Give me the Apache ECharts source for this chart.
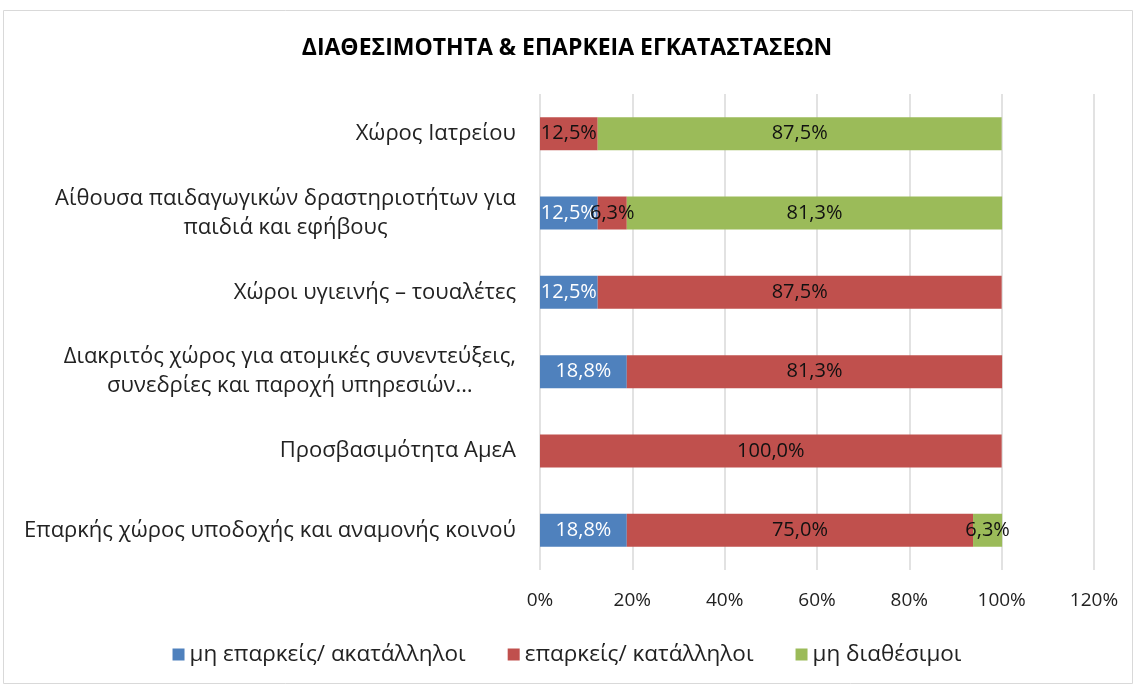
<!DOCTYPE html>
<html>
<head>
<meta charset="utf-8">
<script src="https://cdn.jsdelivr.net/npm/echarts@6/dist/echarts.min.js"></script>
<style>
  html, body { margin: 0; padding: 0; background: #fff; }
  #chart { width: 1134px; height: 686px; }
</style>
</head>
<body>
<div id="chart"></div>
<script>
var categories = [
    'Χώρος Ιατρείου',
    'Αίθουσα παιδαγωγικών δραστηριοτήτων για\nπαιδιά και εφήβους',
    'Χώροι υγιεινής – τουαλέτες',
    'Διακριτός χώρος για ατομικές συνεντεύξεις,\nσυνεδρίες και παροχή υπηρεσιών…',
    'Προσβασιμότητα ΑμεΑ',
    'Επαρκής χώρος υποδοχής και αναμονής κοινού'
];
var seriesNames = ['μη επαρκείς/ ακατάλληλοι', 'επαρκείς/ κατάλληλοι', 'μη διαθέσιμοι'];
var inadequate = [0, 12.5, 12.5, 18.8, 0, 18.8];
var adequate = [12.5, 6.3, 87.5, 81.3, 100, 75.0];
var unavailable = [87.5, 81.3, 0, 0, 0, 6.3];
var colors = ['#4F81BD', '#C0504D', '#9BBB59'];
var labelColors = ['#ffffff', '#111111', '#111111'];

var FONT = '"Open Sans", "Noto Sans", sans-serif';

var myChart = echarts.init(document.getElementById('chart'));

function makeSeries(idx, values) {
    return {
        name: seriesNames[idx],
        type: 'bar',
        stack: 'total',
        barWidth: 33,
        data: values,
        itemStyle: { color: colors[idx] },
        label: {
            show: true,
            position: 'inside',
            color: labelColors[idx],
            fontFamily: FONT,
            fontSize: 20,
            formatter: function (p) {
                if (!p.value) return '';
                return p.value.toFixed(1).replace('.', ',') + '%';
            }
        }
    };
}

var option = {
    animation: false,
    textStyle: { fontFamily: FONT },
    title: {
        text: 'ΔΙΑΘΕΣΙΜΟΤΗΤΑ & ΕΠΑΡΚΕΙΑ ΕΓΚΑΤΑΣΤΑΣΕΩΝ',
        left: 'center',
        top: 32,
        textStyle: { fontFamily: FONT, fontSize: 23, fontWeight: 'bold', color: '#000' }
    },
    graphic: [{
        type: 'rect',
        shape: { x: 3.5, y: 10.5, width: 1129, height: 673 },
        style: { fill: 'none', stroke: '#d9d9d9', lineWidth: 1 },
        silent: true
    }],
    legend: {
        bottom: 15,
        left: 'center',
        itemWidth: 12,
        itemHeight: 12,
        itemGap: 42,
        icon: 'rect',
        textStyle: { fontFamily: FONT, fontSize: 22.5, color: '#222' },
        data: seriesNames
    },
    grid: { left: 540, right: 40, top: 94, bottom: 116 },
    xAxis: {
        type: 'value',
        min: 0,
        max: 120,
        interval: 20,
        axisLine: { show: false },
        axisTick: { show: false },
        splitLine: { show: true, lineStyle: { color: '#d9d9d9', width: 1.5 } },
        axisLabel: {
            margin: 21,
            fontFamily: FONT,
            fontSize: 19,
            color: '#222',
            formatter: '{value}%'
        }
    },
    yAxis: {
        type: 'category',
        inverse: true,
        data: categories,
        axisLine: { show: false },
        axisTick: { show: false },
        axisLabel: {
            margin: 24,
            fontFamily: FONT,
            fontSize: 22,
            color: '#222',
            lineHeight: 29,
            formatter: function (v) {
                return v.split('\n').map(function (l) { return '{c|' + l + '}'; }).join('\n');
            },
            rich: {
                c: { align: 'center', fontFamily: FONT, fontSize: 22, color: '#222', lineHeight: 29 }
            }
        }
    },
    series: [
        makeSeries(0, inadequate),
        makeSeries(1, adequate),
        makeSeries(2, unavailable)
    ]
};
myChart.setOption(option);
</script>
</body>
</html>
